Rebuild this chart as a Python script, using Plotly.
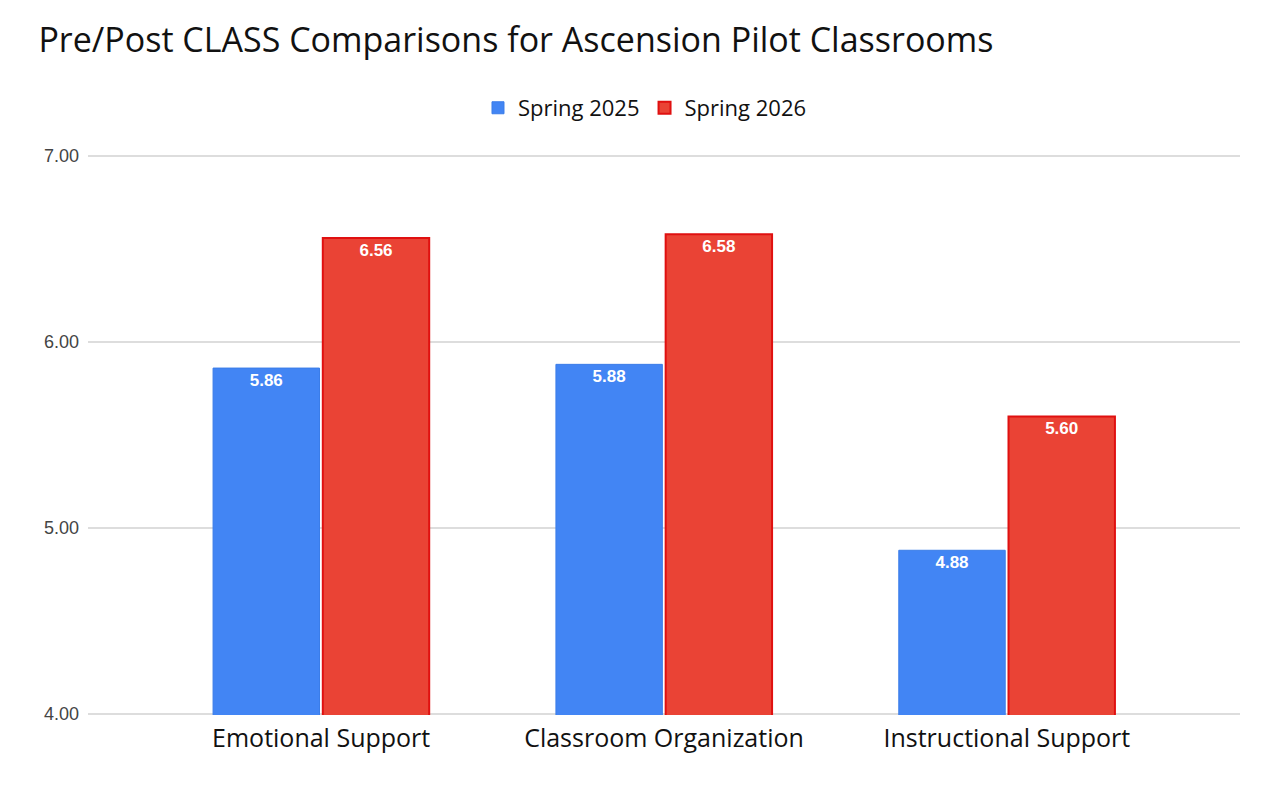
import plotly.graph_objects as go

categories = ["Emotional Support", "Classroom Organization", "Instructional Support"]
spring_2025 = [5.86, 5.88, 4.88]
spring_2026 = [6.56, 6.58, 5.60]
y_ticks = [4, 5, 6, 7]
y_tick_labels = ["4.00", "5.00", "6.00", "7.00"]

label_font = dict(family="Arial", size=17, color="white", weight="bold")

fig = go.Figure()
fig.add_trace(go.Bar(
    name="Spring 2025", x=categories, y=spring_2025,
    marker=dict(color="#4285F4", line=dict(color="#3b7de8", width=1)),
    text=[f"{v:.2f}" for v in spring_2025], textposition="inside",
    insidetextanchor="end", textfont=label_font,
))
fig.add_trace(go.Bar(
    name="Spring 2026", x=categories, y=spring_2026,
    marker=dict(color="#EA4335", line=dict(color="#e01010", width=2)),
    text=[f"{v:.2f}" for v in spring_2026], textposition="inside",
    insidetextanchor="end", textfont=label_font,
))

fig.update_layout(
    width=1280, height=786,
    margin=dict(l=88, r=40, t=155, b=71),
    paper_bgcolor="white", plot_bgcolor="white",
    title=dict(text="Pre/Post CLASS Comparisons for Ascension Pilot Classrooms",
               x=0.03, xanchor="left", y=0.949, yanchor="middle",
               font=dict(family="Open Sans", size=34, color="#111")),
    legend=dict(orientation="h", x=0.4835, xanchor="center", y=1.084, yanchor="middle",
                font=dict(family="Open Sans", size=22, color="#111"),
                itemwidth=30, traceorder="normal"),
    barmode="group", bargap=0.36, bargroupgap=0.03,
    uniformtext=dict(minsize=10, mode="show"),
    xaxis=dict(range=[-0.68, 2.68], showgrid=False, zeroline=False, showline=False,
               tickfont=dict(family="Open Sans", size=25, color="#111"), ticks="",
               ticklabelstandoff=6),
    yaxis=dict(range=[3.994, 7.006], tickvals=y_ticks, ticktext=y_tick_labels,
               showgrid=True, gridcolor="#dddddd", gridwidth=1.5, zeroline=False,
               showline=False, ticks="", ticklabelstandoff=8,
               tickfont=dict(family="Arial", size=18, color="#444")),
    font=dict(family="Open Sans"),
)

fig.write_html("out.html")
